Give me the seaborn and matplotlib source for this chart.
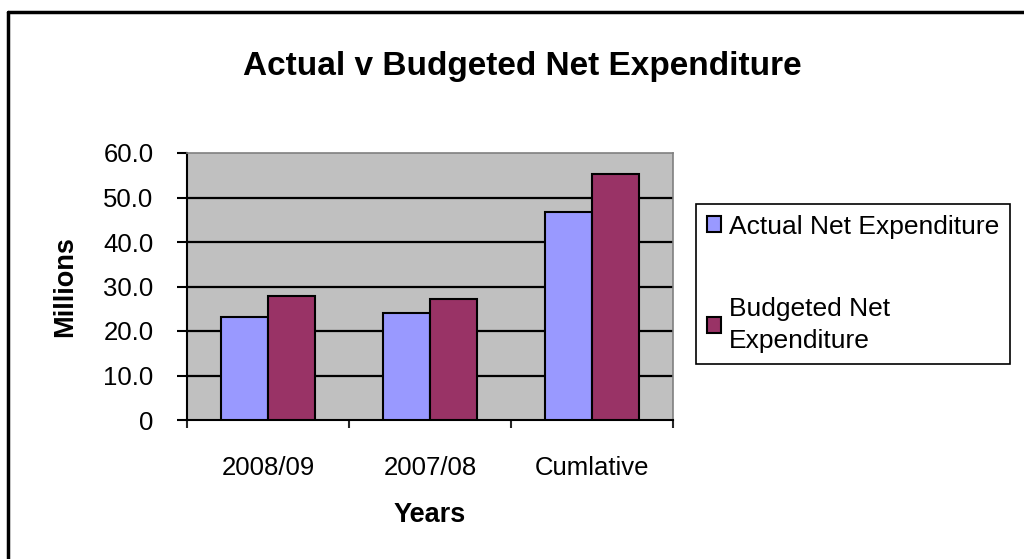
import pandas as pd
import matplotlib.pyplot as plt
import matplotlib.lines as mlines
import seaborn as sns

# Chart data
years = ["2008/09", "2007/08", "Cumlative"]
actual = [23.1, 24.0, 46.8]
budgeted = [27.9, 27.3, 55.3]
series_names = ["Actual Net Expenditure", "Budgeted Net Expenditure"]
legend_labels = ["Actual Net Expenditure", "Budgeted Net\nExpenditure"]
y_ticks = [0, 10, 20, 30, 40, 50, 60]
y_tick_labels = ["0", "10.0", "20.0", "30.0", "40.0", "50.0", "60.0"]

df = pd.DataFrame({
    "Years": years * 2,
    "Millions": actual + budgeted,
    "Series": [series_names[0]] * len(years) + [series_names[1]] * len(years),
})

sns.set_style("white")
plt.rcParams["font.family"] = ["Liberation Sans", "DejaVu Sans"]
plt.rcParams["text.color"] = "black"
plt.rcParams["axes.labelcolor"] = "black"

fig = plt.figure(figsize=(10.24, 5.59), dpi=100)
ax = fig.add_axes([187 / 1024, 1 - 420 / 559, (673 - 187) / 1024, (420 - 153) / 559])
ax.set_facecolor("#C0C0C0")

sns.barplot(data=df, x="Years", y="Millions", hue="Series",
            palette=["#9999FF", "#993366"], saturation=1, width=0.575,
            edgecolor="black", linewidth=1.5, ax=ax, zorder=3)

ax.set_ylim(0, 60)
ax.set_xlim(-0.5, 2.5)
ax.set_yticks(y_ticks)
ax.set_yticklabels(y_tick_labels)
ax.grid(False)
for v in y_ticks[1:-1]:
    ax.axhline(v, color="black", lw=1.6, zorder=1)

# spines
for s in ["top", "right"]:
    ax.spines[s].set_color("#808080")
    ax.spines[s].set_linewidth(1.2)
for s in ["left", "bottom"]:
    ax.spines[s].set_color("black")
    ax.spines[s].set_linewidth(1.5)

ax.tick_params(axis="y", direction="out", length=7, width=1.5, pad=17,
               labelsize=18.5, left=True, colors="black")
ax.tick_params(axis="x", which="major", length=0, pad=26, labelsize=18.5, colors="black")
ax.set_xticks([-0.5, 0.5, 1.5, 2.5], minor=True)
ax.tick_params(axis="x", which="minor", direction="out", length=6, width=1.5, bottom=True)

ax.set_xlabel("Years", fontsize=19.5, fontweight="bold", labelpad=16)
ax.set_ylabel("Millions", fontsize=19.5, fontweight="bold", labelpad=18)

# legend
handles, _ = ax.get_legend_handles_labels()
ax.legend_.remove()
leg = fig.legend(handles, legend_labels, loc="upper left",
                 bbox_to_anchor=(696 / 1024, 1 - 204 / 559), borderaxespad=0,
                 fontsize=19, frameon=True, fancybox=False, framealpha=1,
                 edgecolor="black", handlelength=0.55, handleheight=0.55,
                 handletextpad=0.3, labelspacing=2.2, borderpad=0.4)
leg.get_frame().set_linewidth(1.2)
for t in leg.get_texts():
    t.set_linespacing(1.45)

fig.text(522 / 1024, 1 - 66 / 559, "Actual v Budgeted Net Expenditure",
         fontsize=24, fontweight="bold", ha="center", va="center")

# outer border (top and left only)
fig.add_artist(mlines.Line2D([8 / 1024, 1], [1 - 12 / 559] * 2, color="black", lw=2.5))
fig.add_artist(mlines.Line2D([8 / 1024] * 2, [0, 1 - 12 / 559], color="black", lw=2.5))

fig.savefig("out.png", dpi=100)
